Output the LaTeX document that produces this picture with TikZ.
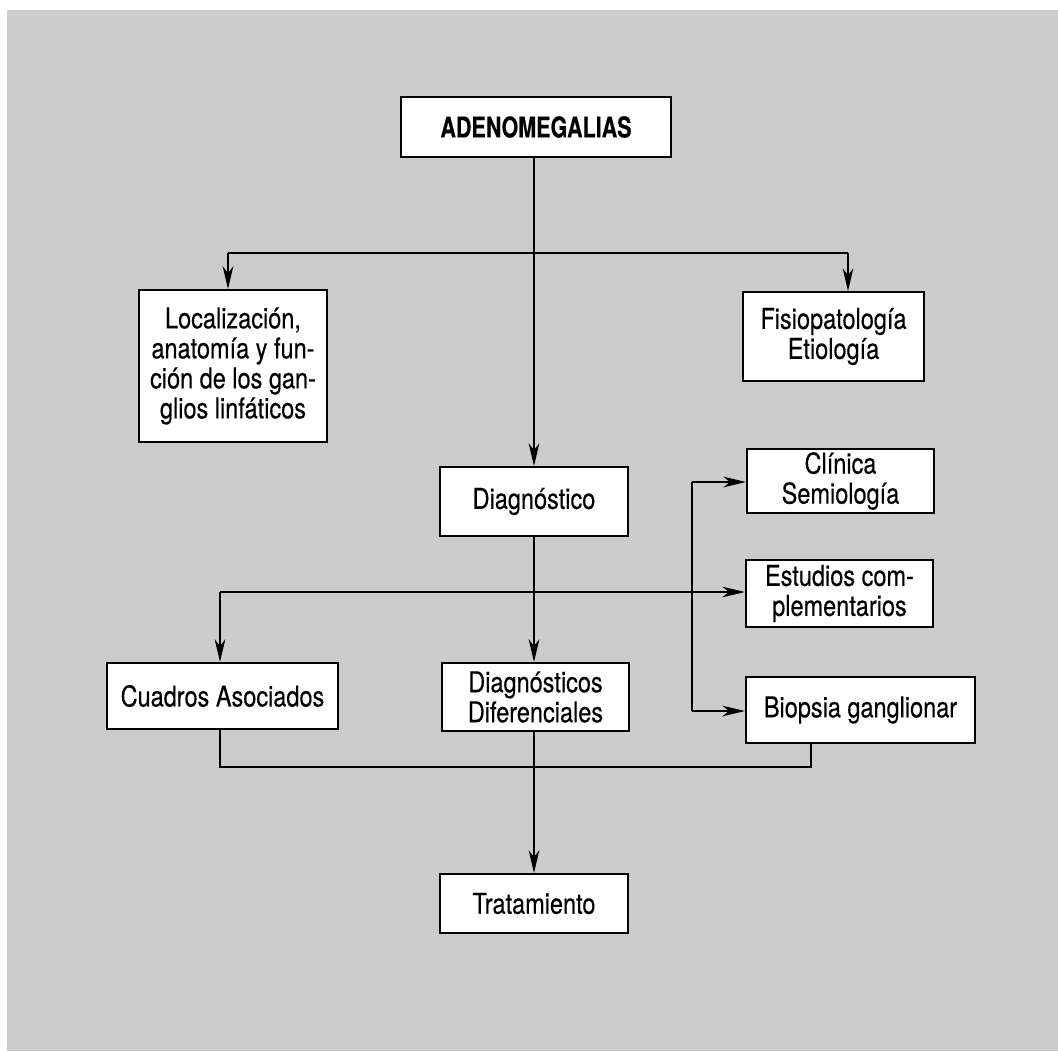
\documentclass[tikz,border=0pt]{standalone}
\usepackage{fontspec}
\setmainfont{TeX Gyre Heros}[FakeStretch=0.82, FakeBold=0.3, BoldFeatures={FakeStretch=0.75}]
\usetikzlibrary{arrows.meta}
\definecolor{bg}{HTML}{CCCCCC}
\tikzset{
 bx/.style={draw, line width=1.5pt, fill=white, inner sep=0pt, align=center, font=\fontsize{21.5}{22.5}\selectfont},
 ln/.style={line width=1.1pt},
 arr/.style={ln, -{Stealth[length=17pt,width=8pt,inset=5pt]}}
}
\begin{document}
\begin{tikzpicture}[x=0.75pt,y=-0.75pt]
\useasboundingbox (0,0) rectangle (1058,1051);
\fill[white] (0,0) rectangle (1058,1051);
\fill[bg] (7,10) rectangle (1058,1051);

% nodes
\node[bx, minimum width=202.5pt, minimum height=45pt] (A) at (536,127) {\textbf{ADENOMEGALIAS}};
\node[bx, minimum width=141pt, minimum height=114pt] (L) at (233,366) {Localización,\\anatomía y fun-\\ción de los gan-\\glios linfáticos};
\node[bx, minimum width=135.75pt, minimum height=66.75pt] (F) at (833.5,336.5) {Fisiopatología\\Etiología};
\node[bx, minimum width=141pt, minimum height=51.75pt] (D) at (534,501.5) {Diagnóstico};
\node[bx, minimum width=140.25pt, minimum height=48pt] (C) at (840.5,481) {Clínica\\Semiología};
\node[bx, minimum width=140.25pt, minimum height=50.25pt] (E) at (839.5,593.5) {Estudios com-\\plementarios};
\node[bx, minimum width=171.75pt, minimum height=49.5pt] (B) at (860.5,710) {Biopsia ganglionar};
\node[bx, minimum width=173.25pt, minimum height=49.5pt] (Q) at (222.5,696) {Cuadros Asociados};
\node[bx, minimum width=140.25pt, minimum height=51pt] (DD) at (535.5,697) {Diagnósticos\\Diferenciales};
\node[bx, minimum width=141pt, minimum height=44.25pt] (T) at (534,903.5) {Tratamiento};

% junction coordinates
\coordinate (jA) at (534,253);
\coordinate (jL) at (228,253);
\coordinate (jF) at (848,253);
\coordinate (jQ) at (220,592);
\coordinate (jV1) at (692,482);
\coordinate (jV2) at (692,711);
\coordinate (bQ) at (220,767);
\coordinate (bB) at (811,767);
\coordinate (bM) at (534,767);

% connectors
\draw[arr] (jA |- A.south) -- (jA |- D.north);
\draw[ln] (jL) -- (jF);
\draw[arr] (jL) -- (jL |- L.north);
\draw[arr] (jF) -- (jF |- F.north);
\draw[arr] (jA |- D.south) -- (jA |- DD.north);
\draw[ln] (jQ) -- (jQ -| jV1);
\draw[arr] (jQ -| jV1) -- (jQ -| E.west);
\draw[arr] (jQ) -- (jQ |- Q.north);
\draw[ln] (jV1) -- (jV2);
\draw[arr] (jV1) -- (jV1 -| C.west);
\draw[arr] (jV2) -- (jV2 -| B.west);
\draw[ln] (bQ |- Q.south) -- (bQ) -- (bB) -- (bB |- B.south);
\draw[arr] (bM |- DD.south) -- (bM |- T.north);
\end{tikzpicture}
\end{document}
